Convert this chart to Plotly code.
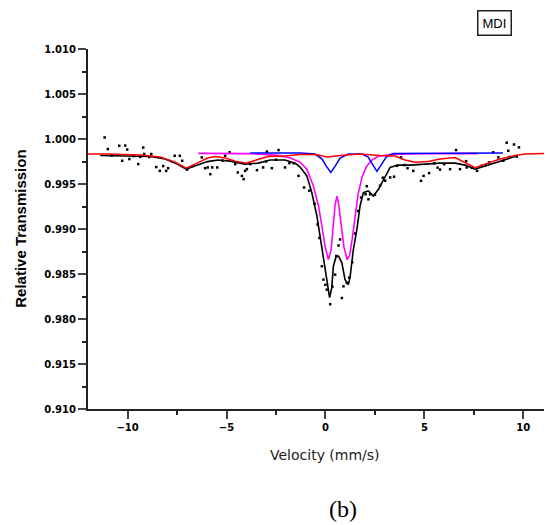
import plotly.graph_objects as go

# Mossbauer spectrum, sample MDI

# measured points
data_v = [-11.16, -11.00, -10.80, -10.42, -10.27, -10.12, -10.02, -9.91, -9.70, -9.46,
          -9.36, -9.21, -9.16, -8.90, -8.80, -8.55, -8.37, -8.20, -8.05, -7.95,
          -7.62, -7.36, -7.24, -6.99, -6.70, -6.25, -6.08, -5.95, -5.82, -5.72,
          -5.47, -5.20, -5.07, -4.84, -4.56, -4.43, -4.22, -4.13, -4.06, -3.97,
          -3.80, -3.46, -3.15, -3.00, -2.96, -2.71, -2.50, -2.37, -2.04, -1.82,
          -1.60, -1.36, -1.08, -0.82, -0.55, -0.40, -0.30, -0.18, -0.10, 0.00,
          0.07, 0.24, 0.35, 0.49, 0.55, 0.66, 0.74, 0.83, 0.91, 1.08,
          1.20, 1.35, 1.50, 1.65, 1.80, 2.03, 2.09, 2.17, 2.26, 2.50,
          2.76, 2.90, 3.02, 3.27, 3.47, 3.62, 3.82, 4.00, 4.15, 4.44,
          4.83, 4.96, 5.24, 5.50, 5.67, 5.79, 6.00, 6.30, 6.60, 6.80,
          7.11, 7.14, 7.40, 7.66, 7.90, 8.10, 8.28, 8.48, 8.74, 8.99,
          9.16, 9.24, 9.30, 9.53, 9.67, 9.78]
data_t = [1.00017, 0.99888, 0.99816, 0.99925, 0.99758, 0.99927, 0.99883, 0.99777, 0.99810, 0.99721,
          0.99802, 0.99905, 0.99833, 0.99800, 0.99833, 0.99688, 0.99646, 0.99699, 0.99646, 0.99676,
          0.99814, 0.99814, 0.99758, 0.99660, 0.99700, 0.99796, 0.99676, 0.99684, 0.99609, 0.99684,
          0.99684, 0.99760, 0.99814, 0.99852, 0.99721, 0.99628, 0.99590, 0.99554, 0.99646, 0.99665,
          0.99721, 0.99654, 0.99684, 0.99750, 0.99860, 0.99676, 0.99770, 0.99877, 0.99684, 0.99732,
          0.99730, 0.99590, 0.99461, 0.99425, 0.99280, 0.99050, 0.98900, 0.98586, 0.98438, 0.98380,
          0.98326, 0.98164, 0.98360, 0.98493, 0.98700, 0.98817, 0.98884, 0.98233, 0.98363, 0.98401,
          0.98460, 0.98630, 0.98950, 0.99200, 0.99350, 0.99386, 0.99475, 0.99330, 0.99386, 0.99380,
          0.99481, 0.99570, 0.99537, 0.99573, 0.99581, 0.99702, 0.99796, 0.99710, 0.99676, 0.99646,
          0.99535, 0.99590, 0.99621, 0.99730, 0.99682, 0.99660, 0.99720, 0.99665, 0.99877, 0.99665,
          0.99754, 0.99684, 0.99680, 0.99646, 0.99702, 0.99710, 0.99740, 0.99852, 0.99796, 0.99758,
          0.99959, 0.99869, 0.99800, 0.99939, 0.99805, 0.99907]

# total fit (black)
fit_v = [-11.38, -9.86, -8.85, -8.10, -7.49, -7.04, -6.48, -5.97, -5.42, -4.81,
         -4.06, -3.40, -2.79, -2.04, -1.53, -1.28, -0.94, -0.69, -0.43, -0.27,
         -0.10, 0.07, 0.21, 0.32, 0.40, 0.54, 0.66, 0.83, 0.99, 1.16,
         1.25, 1.41, 1.59, 1.75, 1.92, 2.17, 2.42, 2.68, 3.02, 3.27,
         3.67, 4.28, 5.04, 5.79, 6.55, 7.05, 7.56, 8.06, 8.82, 9.58, 9.73]
fit_t = [0.99816, 0.99810, 0.99805, 0.99777, 0.99721, 0.99665, 0.99710, 0.99749, 0.99766, 0.99754,
         0.99721, 0.99732, 0.99766, 0.99766, 0.99732, 0.99688, 0.99590, 0.99405, 0.99144, 0.98921,
         0.98661, 0.98401, 0.98237, 0.98348, 0.98586, 0.98694, 0.98698, 0.98624, 0.98438, 0.98382,
         0.98474, 0.98772, 0.98996, 0.99256, 0.99405, 0.99423, 0.99367, 0.99442, 0.99590, 0.99684,
         0.99710, 0.99710, 0.99721, 0.99732, 0.99732, 0.99710, 0.99665, 0.99699, 0.99754, 0.99810, 0.99816]

# sextet (red)
sext_v = [-12.0, -10.87, -9.35, -8.35, -7.59, -7.04, -6.48, -5.97, -5.57, -5.07,
          -4.56, -4.00, -3.50, -2.89, -2.04, -1.28, -0.52, 0.09, 0.74, 1.75,
          2.76, 3.52, 4.02, 4.53, 5.19, 5.79, 6.55, 7.05, 7.56, 8.06,
          8.82, 9.58, 10.09, 11.45]
sext_t = [0.99833, 0.99833, 0.99821, 0.99799, 0.99743, 0.99676, 0.99732, 0.99788, 0.99805, 0.99788,
          0.99754, 0.99732, 0.99766, 0.99805, 0.99810, 0.99827, 0.99827, 0.99799, 0.99816, 0.99833,
          0.99816, 0.99810, 0.99766, 0.99743, 0.99750, 0.99777, 0.99794, 0.99743, 0.99682, 0.99721,
          0.99777, 0.99816, 0.99833, 0.99840]

# doublet 1 (magenta)
dbl1_v = [-6.43, -3.80, -2.29, -1.78, -1.28, -0.94, -0.61, -0.35, -0.18, -0.02,
          0.15, 0.29, 0.40, 0.49, 0.58, 0.67, 0.79, 0.94, 1.10, 1.22,
          1.35, 1.50, 1.65, 1.85, 2.06, 2.31, 2.66, 3.27, 4.78, 7.66]
dbl1_t = [0.99840, 0.99838, 0.99816, 0.99788, 0.99743, 0.99665, 0.99479, 0.99256, 0.99033, 0.98809,
          0.98661, 0.98772, 0.99051, 0.99275, 0.99364, 0.99275, 0.99051, 0.98795, 0.98661, 0.98705,
          0.98884, 0.99163, 0.99386, 0.99576, 0.99688, 0.99760, 0.99805, 0.99827, 0.99836, 0.99838]

# doublet 2 (blue)
dbl2_v = [-3.80, -1.28, -0.52, -0.17, 0.04, 0.27, 0.49, 0.74, 1.15, 1.85,
          2.16, 2.36, 2.60, 2.81, 3.07, 3.42, 8.97]
dbl2_t = [0.99844, 0.99844, 0.99833, 0.99777, 0.99699, 0.99628, 0.99699, 0.99788, 0.99833, 0.99833,
          0.99799, 0.99721, 0.99640, 0.99710, 0.99799, 0.99838, 0.99844]

y_ticks = [0.970, 0.975, 0.980, 0.985, 0.990, 0.995, 1.000, 1.005, 1.010]
y_labels = ["0.910", "0.915", "0.980", "0.985", "0.990", "0.995", "1.000", "1.005", "1.010"]
x_ticks = [-10, -5, 0, 5, 10]

fig = go.Figure()
fig.add_trace(go.Scatter(x=data_v, y=data_t, mode="markers",
                         marker=dict(symbol="square", size=2.5, color="black")))
fig.add_trace(go.Scatter(x=fit_v, y=fit_t, mode="lines", line=dict(color="black", width=1.6)))
fig.add_trace(go.Scatter(x=dbl1_v, y=dbl1_t, mode="lines", line=dict(color="#ff00ff", width=1.6)))
fig.add_trace(go.Scatter(x=dbl2_v, y=dbl2_t, mode="lines", line=dict(color="#0000ff", width=1.5)))
fig.add_trace(go.Scatter(x=sext_v, y=sext_t, mode="lines", line=dict(color="#ff0000", width=1.5)))

# page body has an 8px margin, so the figure is 8px smaller and margins shifted
tick_font = dict(family="DejaVu Sans", size=10, color="black", weight="bold")
fig.update_layout(
    width=544, height=517,
    margin=dict(l=80, r=0, t=41, b=116),
    paper_bgcolor="white", plot_bgcolor="white",
    showlegend=False,
    xaxis=dict(range=[-12, 11.45], tickvals=x_ticks, ticks="outside", ticklen=8,
               tickwidth=1.5, showline=True, linewidth=2, linecolor="#222",
               showgrid=False, zeroline=False, tickfont=tick_font,
               minor=dict(tickvals=[-7.5, -2.5, 2.5, 7.5], ticks="outside", ticklen=4,
                          tickwidth=1.5, tickcolor="#222")),
    yaxis=dict(range=[0.970, 1.010], tickvals=y_ticks, ticktext=y_labels, ticks="outside",
               ticklen=8, tickwidth=1.5, showline=True, linewidth=2, linecolor="#222",
               showgrid=False, zeroline=False, tickfont=tick_font,
               minor=dict(tickvals=[0.9725, 0.9775, 0.9825, 0.9875, 0.9925, 0.9975, 1.0025, 1.0075],
                          ticks="outside", ticklen=4, tickwidth=1.5, tickcolor="#222")),
    annotations=[
        dict(text="<b>Relative Transmission</b>", textangle=-90, xref="paper", yref="paper",
             x=-0.147, y=0.5, xanchor="center", yanchor="middle", showarrow=False,
             font=dict(family="Liberation Sans", size=15, color="black")),
        dict(text="Velocity (mm/s)", xref="paper", yref="paper", x=0.511, y=-0.128,
             xanchor="center", yanchor="middle", showarrow=False,
             font=dict(family="DejaVu Sans", size=14, color="#222")),
        dict(text="(b)", xref="paper", yref="paper", x=0.55, y=-0.278,
             xanchor="center", yanchor="middle", showarrow=False,
             font=dict(family="Liberation Serif", size=24, color="black")),
        dict(text="MDI", xref="paper", yref="paper", x=0.877, y=1.072,
             xanchor="center", yanchor="middle", showarrow=False,
             bordercolor="#222", borderwidth=1.5, borderpad=4,
             font=dict(family="Liberation Sans", size=13, color="black")),
    ],
)

fig.write_html("out.html")
